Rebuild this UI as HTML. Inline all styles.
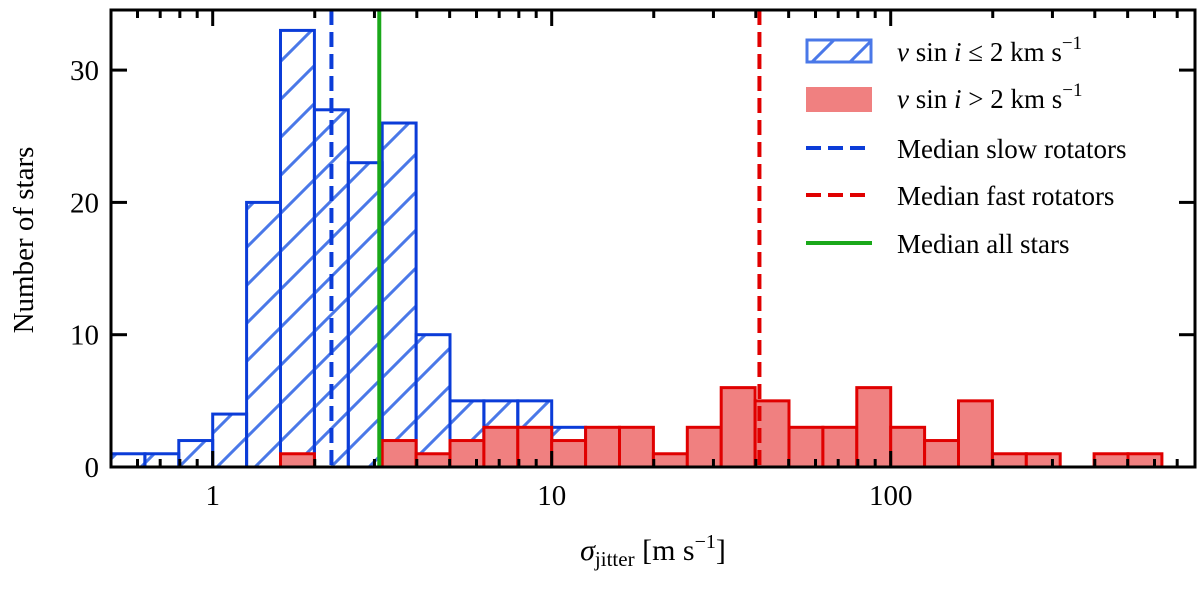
<!DOCTYPE html>
<html><head><meta charset="utf-8"><style>
body{margin:0;background:#fff}
svg text{font-family:"Liberation Serif",serif;fill:#000}
</style></head><body>
<svg id="chart" width="1200" height="587" xmlns="http://www.w3.org/2000/svg">
<defs>
<pattern id="hatch" patternUnits="userSpaceOnUse" width="38" height="38">
<path d="M-10,48 L48,-10 M-10,10 L10,-10 M28,48 L48,28" stroke="#4a78e8" stroke-width="3"/>
</pattern>
</defs>
<g id="bars"></g>
<g id="lines"></g>
<g id="axes"></g>
<g id="legend"></g>
</svg>
<script>
// log10 bin left edges (0.1 dex bins)
const slowBinStarts=[-0.3,-0.2,-0.1,0.0,0.1,0.2,0.3,0.4,0.5,0.6,0.7,0.8,0.9,1.0];
const slowCounts=[1,1,2,4,20,33,27,23,26,10,5,5,5,3];
const fastBinStarts=[0.2,0.5,0.6,0.7,0.8,0.9,1.0,1.1,1.2,1.3,1.4,1.5,1.6,1.7,1.8,1.9,2.0,2.1,2.2,2.3,2.4,2.6,2.7];
const fastCounts=[1,2,1,2,3,3,2,3,3,1,3,6,5,3,3,6,3,2,5,1,1,1,1];
const binWidth=0.1;
const medianSlow=2.24, medianFast=41.0, medianAll=3.1;
const yTicks=[0,10,20,30];
const xTickLabels=["1","10","100"];
const xTickValues=[1,10,100];

const L=111,R=1195,T=10,B=467;
const X0=212.7,DEC=339;
function xLog(l){return X0+l*DEC;}
function x(v){return xLog(Math.log10(v));}
function y(v){return B-v*13.23;}
const NS="http://www.w3.org/2000/svg";
function mk(tag,attrs,parent){const e=document.createElementNS(NS,tag);for(const k in attrs)e.setAttribute(k,attrs[k]);parent.appendChild(e);return e;}
const bars=document.getElementById('bars'),lines=document.getElementById('lines'),axes=document.getElementById('axes'),leg=document.getElementById('legend');

const cp=mk('clipPath',{id:'clip'},bars);
mk('rect',{x:L,y:T,width:R-L,height:B-T},cp);
const g=mk('g',{'clip-path':'url(#clip)'},bars);

slowBinStarts.forEach((s,i)=>{
  const x1=xLog(s),x2=xLog(s+binWidth);
  const r=mk('rect',{x:x1,y:y(slowCounts[i]),width:x2-x1,height:B-y(slowCounts[i]),fill:'url(#hatch)',stroke:'#0b3cd8','stroke-width':3},g);
  
  
});
fastBinStarts.forEach((s,i)=>{
  const x1=xLog(s),x2=xLog(s+binWidth);
  const r=mk('rect',{x:x1,y:y(fastCounts[i]),width:x2-x1,height:B-y(fastCounts[i]),fill:'#f08080',stroke:'#e00000','stroke-width':3},g);
  
  
});

let ln;
ln=mk('line',{x1:x(medianSlow),x2:x(medianSlow),y1:T,y2:B,stroke:'#0b3cd8','stroke-width':4,'stroke-dasharray':'15,7'},lines);

ln=mk('line',{x1:x(medianFast),x2:x(medianFast),y1:T,y2:B,stroke:'#e00000','stroke-width':4,'stroke-dasharray':'15,7'},lines);

ln=mk('line',{x1:x(medianAll),x2:x(medianAll),y1:T,y2:B,stroke:'#1aa81a','stroke-width':4},lines);


// axes
const fr=mk('rect',{x:L,y:T,width:R-L,height:B-T,fill:'none',stroke:'#000','stroke-width':3},axes);

yTicks.forEach(v=>{
  mk('line',{x1:L,x2:L+16,y1:y(v),y2:y(v),stroke:'#000','stroke-width':3},axes);
  mk('line',{x1:R,x2:R-16,y1:y(v),y2:y(v),stroke:'#000','stroke-width':3},axes);
  const t=mk('text',{x:L-12,y:y(v)+10,'text-anchor':'end','font-size':29},axes);t.textContent=v;
  
});
for(let d=-1;d<=2;d++){for(let m=1;m<10;m++){
  const v=m*Math.pow(10,d);const px=x(v);if(px<L||px>R)continue;
  const len=m===1?16:8;
  mk('line',{x1:px,x2:px,y1:B,y2:B-len,stroke:'#000','stroke-width':3},axes);
  mk('line',{x1:px,x2:px,y1:T,y2:T+len,stroke:'#000','stroke-width':3},axes);
}}
xTickValues.forEach((v,i)=>{
  const t=mk('text',{x:x(v),y:B+38,'text-anchor':'middle','font-size':29},axes);t.textContent=xTickLabels[i];
  
});
let t=mk('text',{x:0,y:0,transform:'translate(33,240) rotate(-90)','text-anchor':'middle','font-size':29},axes);
t.textContent='Number of stars';
t=mk('text',{x:653,y:560,'text-anchor':'middle','font-size':30},axes);
t.innerHTML='<tspan font-style="italic">σ</tspan><tspan font-size="21" dy="6">jitter</tspan><tspan dy="-6"> [m s</tspan><tspan font-size="20" dy="-12">−1</tspan><tspan dy="12">]</tspan>';


// legend
let e;
e=mk('rect',{x:807,y:40,width:64,height:22,fill:'url(#hatch)',stroke:'#4a78e8','stroke-width':3},leg);

e=mk('rect',{x:806,y:87,width:66,height:25,fill:'#f08080'},leg);

e=mk('line',{x1:806,x2:872,y1:148,y2:148,stroke:'#0b3cd8','stroke-width':4,'stroke-dasharray':'15,7'},leg);

e=mk('line',{x1:806,x2:872,y1:195,y2:195,stroke:'#e00000','stroke-width':4,'stroke-dasharray':'15,7'},leg);

e=mk('line',{x1:806,x2:872,y1:243,y2:243,stroke:'#1aa81a','stroke-width':4},leg);

const labels=[
 ['<tspan font-style="italic">v</tspan> sin <tspan font-style="italic">i</tspan> ≤ 2 km s<tspan font-size="19" dy="-12">−1</tspan>',61],
 ['<tspan font-style="italic">v</tspan> sin <tspan font-style="italic">i</tspan> &gt; 2 km s<tspan font-size="19" dy="-12">−1</tspan>',108],
 ['Median slow rotators',158],['Median fast rotators',205],['Median all stars',253]];
labels.forEach((l,i)=>{
  const tt=mk('text',{x:897,y:l[1],'font-size':27},leg);tt.innerHTML=l[0];
  
});
</script>
</body></html>
